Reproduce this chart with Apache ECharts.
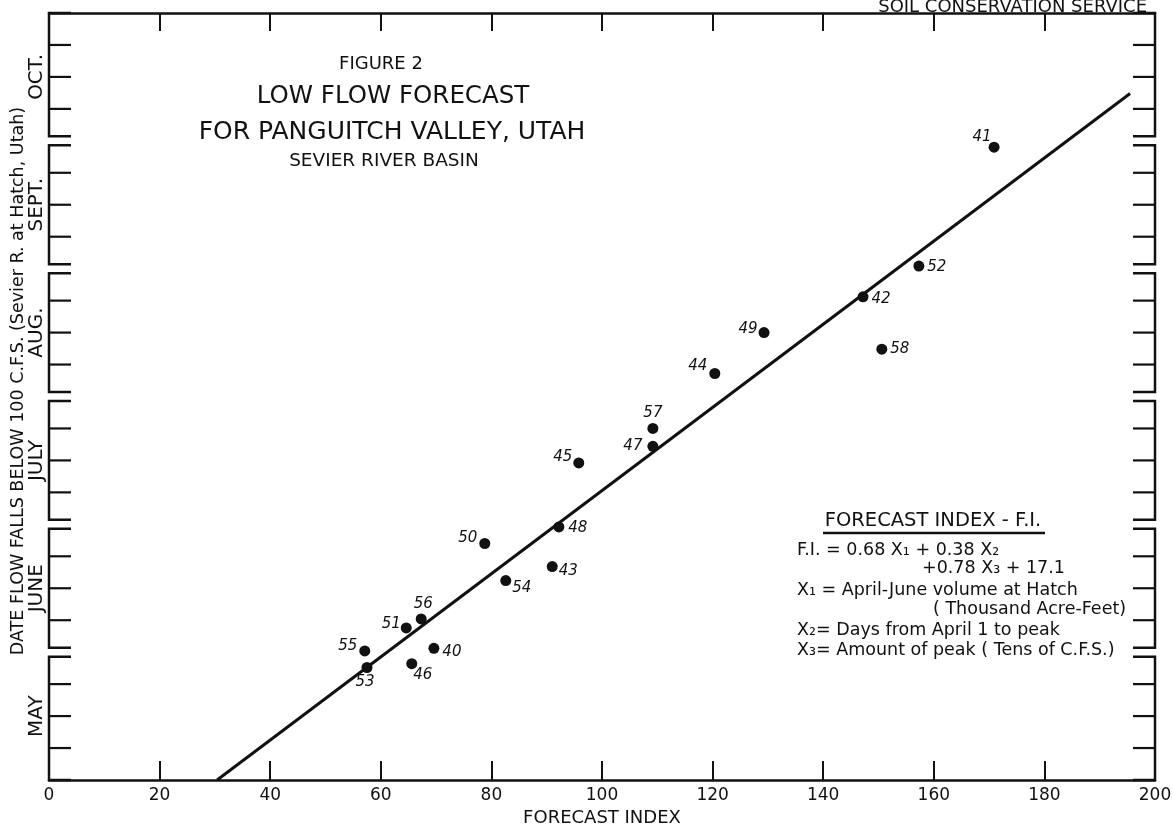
<!DOCTYPE html>
<html><head><meta charset="utf-8">
<script src="https://cdn.jsdelivr.net/npm/echarts@6/dist/echarts.min.js"></script>
<style>html,body{margin:0;padding:0;background:#fff}#c{width:1173px;height:825px}</style>
</head><body><div id="c"></div>
<script>
// Year labels (19xx) of each observation
const years = ['40','41','42','43','44','45','46','47','48','49','50','51','52','53','54','55','56','57','58'];
// Forecast index (x)
const forecastIndex = [69.6,170.9,147.2,91.0,120.4,95.8,65.6,109.2,92.2,129.3,78.8,64.6,157.3,57.5,82.6,57.1,67.3,109.2,150.6];
// Date flow falls below 100 cfs, in months after May 1 (y)
const flowDate = [1.03,4.95,3.78,1.67,3.18,2.48,0.91,2.61,1.98,3.50,1.85,1.19,4.02,0.88,1.56,1.01,1.26,2.75,3.37];
// Regression line end points
const lineX = [30.4, 195.5];
const lineY = [0, 5.37];
// Axis labels
const monthLabels = ['MAY','JUNE','JULY','AUG.','SEPT.','OCT.'];
const xTickLabels = ['0','20','40','60','80','100','120','140','160','180','200'];
// label placement offsets (px) for the year labels
const labelOffsets = [[18,4],[-12,-10],[18,2],[16,5],[-17,-7],[-16,-6],[11,11],[-20,0],[19,1],[-16,-3],[-17,-5],[-15,-4],[18,1],[-2,15],[16,8],[-17,-5],[2,-15],[0,-15],[18,0]];

const INK = '#111';
const FONT = '"DejaVu Sans", sans-serif';

const chart = echarts.init(document.getElementById('c'), null, {renderer:'canvas'});

function bracketItem(params, api){
  const i = api.value(0);
  const g = 0.035;
  const y0 = i + (i === 0 ? 0 : g);
  const y1 = i + 1 - (i === monthLabels.length - 1 ? 0 : g);
  const L = 22;
  const children = [];
  [0, 200].forEach(function(xv, side){
    const dir = side === 0 ? 1 : -1;
    const a = api.coord([xv, y0]);
    const b = api.coord([xv, y1]);
    children.push({type:'polyline', shape:{points:[[a[0]+dir*L,a[1]],[a[0],a[1]],[b[0],b[1]],[b[0]+dir*L,b[1]]]},
      style:{stroke:INK, lineWidth:2.5, fill:null}});
    [0.25,0.5,0.75].forEach(function(f){
      const p = api.coord([xv, i+f]);
      children.push({type:'line', shape:{x1:p[0], y1:p[1], x2:p[0]+dir*L, y2:p[1]}, style:{stroke:INK, lineWidth:2.2}});
    });
  });
  return {type:'group', children: children};
}

function txt(x, y, text, size, align, extra){
  const s = {text:text, fontSize:size, fontFamily:FONT, fill:INK, align:align, verticalAlign:'middle', textAlign:align, textVerticalAlign:'middle'};
  const o = {type:'text', x:x, y:y, style:s};
  if (extra) Object.assign(o, extra);
  return o;
}

const option = {
  backgroundColor:'#fff',
  animation:false,
  grid:{left:49, right:18, top:13, bottom:45, containLabel:false, outerBoundsMode:'none'},
  xAxis:[{
    type:'value', min:0, max:200, interval:20, position:'bottom',
    axisLine:{show:true, lineStyle:{color:INK, width:2.5}},
    axisTick:{show:true, inside:true, length:19, lineStyle:{color:INK, width:2}},
    axisLabel:{color:INK, fontSize:17, fontFamily:FONT, margin:7,
      formatter:function(v){ return xTickLabels[Math.round(v/20)]; }},
    splitLine:{show:false},
    name:'FORECAST INDEX', nameLocation:'middle', nameGap:26,
    nameTextStyle:{color:INK, fontSize:18, fontFamily:FONT}
  },{
    type:'value', min:0, max:200, interval:20, position:'top',
    axisLine:{show:true, lineStyle:{color:INK, width:2.5}},
    axisTick:{show:true, inside:true, length:18, lineStyle:{color:INK, width:2}},
    axisLabel:{show:false}, splitLine:{show:false}
  }],
  yAxis:{
    type:'value', min:0, max:6, interval:0.5,
    axisLine:{show:false}, axisTick:{show:false}, splitLine:{show:false},
    axisLabel:{color:INK, fontSize:20, fontFamily:FONT, rotate:90, margin:2,
      formatter:function(v){ const k = Math.floor(v); return (Math.abs(v-k-0.5)<1e-6) ? monthLabels[k] : ''; }}
  },
  graphic:[
    txt(18, 381, 'DATE FLOW FALLS BELOW 100 C.F.S. (Sevier R. at Hatch, Utah)', 17.5, 'center', {rotation:Math.PI/2}),
    txt(381, 64, 'FIGURE 2', 18, 'center'),
    txt(393, 97, 'LOW FLOW FORECAST', 24.5, 'center'),
    txt(392, 132, 'FOR PANGUITCH VALLEY, UTAH', 25, 'center'),
    txt(384, 161, 'SEVIER RIVER BASIN', 18.5, 'center'),
    {type:'text', x:1147, y:16, style:{text:'SOIL CONSERVATION SERVICE', fontSize:18, fontFamily:FONT, fill:INK, align:'right', verticalAlign:'bottom', textAlign:'right', textVerticalAlign:'bottom'}},
    txt(933, 521, 'FORECAST INDEX - F.I.', 19.5, 'center'),
    {type:'line', shape:{x1:823, y1:533, x2:1045, y2:533}, style:{stroke:INK, lineWidth:2.5}},
    txt(797, 550, 'F.I. = 0.68 X\u2081 + 0.38 X\u2082', 17.5, 'left'),
    txt(922, 568, '+0.78 X\u2083 + 17.1', 17.5, 'left'),
    txt(797, 590, 'X\u2081 = April-June volume at Hatch', 17.5, 'left'),
    txt(933, 609, '( Thousand Acre-Feet)', 17.5, 'left'),
    txt(797, 630, 'X\u2082= Days from April 1 to peak', 17.5, 'left'),
    txt(797, 650, 'X\u2083= Amount of peak ( Tens of C.F.S.)', 17.5, 'left')
  ],
  series:[
    {type:'custom', renderItem:bracketItem, data:monthLabels.map(function(m,i){return [i];}), silent:true, clip:false, z:3},
    {type:'line', data:lineX.map(function(x,i){return [x, lineY[i]];}), symbol:'none',
      lineStyle:{color:INK, width:3}, z:4, silent:true},
    {type:'scatter', symbol:'circle', symbolSize:11, itemStyle:{color:INK, opacity:1}, z:5,
      data:forecastIndex.map(function(x,i){return {value:[x, flowDate[i]], name:years[i], label:{offset:labelOffsets[i]}};}),
      label:{show:true, position:'inside', formatter:function(p){return p.name;}, color:INK, opacity:1, fontSize:15, fontStyle:'italic', fontFamily:FONT, align:'center', verticalAlign:'middle'}}
  ]
};
chart.setOption(option);
</script>
</body></html>
